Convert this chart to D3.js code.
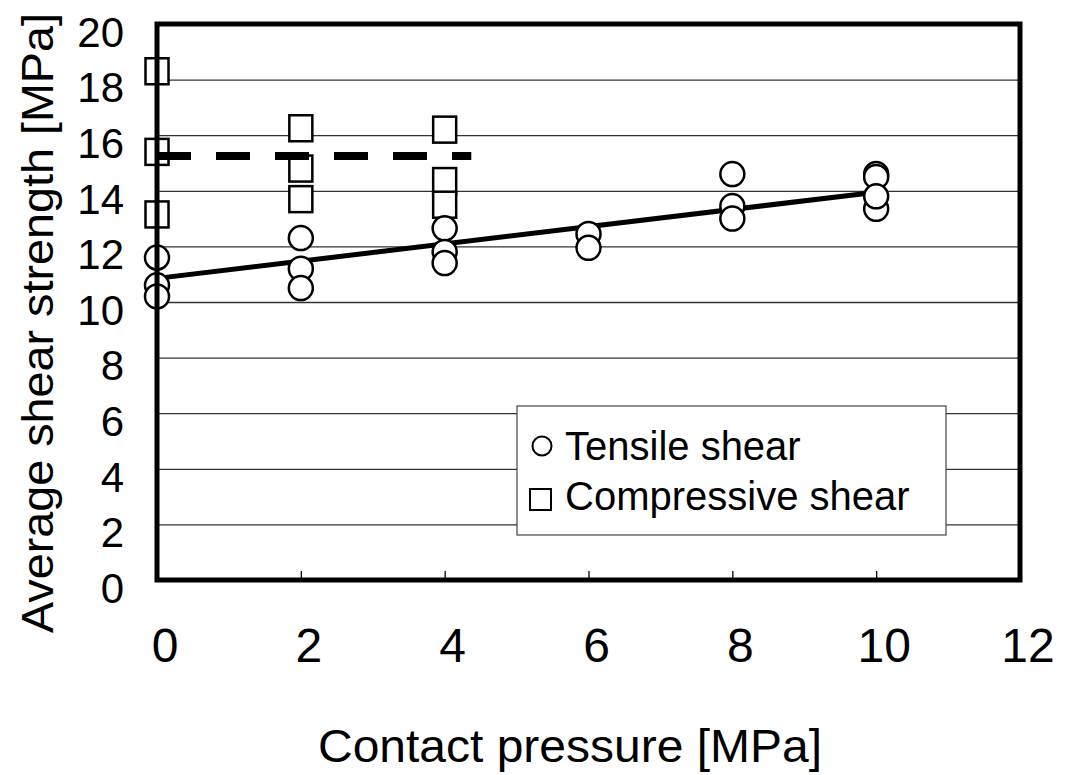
<!DOCTYPE html>
<html>
<head>
<meta charset="utf-8">
<title>Average shear strength vs contact pressure</title>
<script src="https://d3js.org/d3.v7.min.js"></script>
<style>
  body { margin: 0; background: #fff; }
  text { font-family: "Liberation Sans", Arial, sans-serif; fill: #000; }
</style>
</head>
<body>
<script>
// tensile shear (circles)
const tensileX = [0, 0, 0, 2, 2, 2, 4, 4, 4, 6, 6, 8, 8, 8, 10, 10, 10, 10];
const tensileY = [11.6, 10.6, 10.2, 12.3, 11.2, 10.5, 12.65, 11.8, 11.4, 12.45, 11.95, 14.6, 13.45, 13.0, 13.35, 14.6, 14.5, 13.8];
// compressive shear (squares)
const compX = [0, 0, 0, 2, 2, 2, 4, 4, 4];
const compY = [18.3, 15.4, 13.15, 16.25, 14.8, 13.7, 16.2, 14.35, 13.5];
// fitted line for tensile, mean line for compressive
const fitX = [0, 10];
const fitY = [10.85, 13.95];
const meanX = [0, 4.37];
const meanY = [15.25, 15.25];

const xTicks = [0, 2, 4, 6, 8, 10, 12];
const yTicks = [0, 2, 4, 6, 8, 10, 12, 14, 16, 18, 20];
const legendLabels = ["Tensile shear", "Compressive shear"];

const w = 1068, h = 775;
const pLeft = 157, pRight = 1020, pTop = 24, pBottom = 580;

const x = d3.scaleLinear().domain([0, 12]).range([pLeft, pRight]);
const y = d3.scaleLinear().domain([0, 20]).range([pBottom, pTop]);

const svg = d3.select("body").append("svg").attr("width", w).attr("height", h);

// gridlines
svg.append("g")
    .attr("transform", "translate(" + pLeft + ",0)")
    .call(d3.axisLeft(y).tickValues(yTicks.slice(1, -1)).tickSize(-(pRight - pLeft)).tickFormat(""))
    .call(g => g.select(".domain").remove())
    .call(g => g.selectAll("line").attr("stroke", "#333").attr("stroke-width", 1.3));

// x ticks (inward)
svg.append("g")
    .attr("transform", "translate(0," + pBottom + ")")
    .call(d3.axisBottom(x).tickValues(xTicks.slice(1, -1)).tickSize(-9).tickFormat(""))
    .call(g => g.select(".domain").remove())
    .call(g => g.selectAll("line").attr("stroke", "#000").attr("stroke-width", 1.3));

// tick labels
svg.append("g").selectAll("text").data(yTicks).join("text")
    .attr("x", 124)
    .attr("y", d => y(d) + 8)
    .attr("dy", "0.35em")
    .attr("text-anchor", "end")
    .attr("font-size", 42)
    .text(d => d);

svg.append("g").selectAll("text").data(xTicks).join("text")
    .attr("x", d => x(d) + 8)
    .attr("y", 662)
    .attr("text-anchor", "middle")
    .attr("font-size", 48)
    .style("font-family", '"Liberation Sans Narrow", "Arial Narrow", "Liberation Sans", sans-serif')
    .text(d => d);

// axis titles
svg.append("text")
    .attr("transform", "translate(53," + 323 + ") rotate(-90)")
    .attr("text-anchor", "middle")
    .attr("font-size", 45)
    .attr("textLength", 620)
    .attr("lengthAdjust", "spacingAndGlyphs")
    .text("Average shear strength [MPa]");

svg.append("text")
    .attr("x", 570)
    .attr("y", 762)
    .attr("text-anchor", "middle")
    .attr("font-size", 46)
    .attr("textLength", 504)
    .attr("lengthAdjust", "spacingAndGlyphs")
    .text("Contact pressure [MPa]");

// lines
const line = d3.line().x(d => x(d[0])).y(d => y(d[1]));
svg.append("path")
    .datum(d3.zip(fitX, fitY))
    .attr("d", line)
    .attr("fill", "none")
    .attr("stroke", "#000")
    .attr("stroke-width", 5);

// markers
svg.append("g").selectAll("rect").data(d3.zip(compX, compY)).join("rect")
    .attr("x", d => x(d[0]) - 11.5)
    .attr("y", d => y(d[1]) - 13)
    .attr("width", 23)
    .attr("height", 26)
    .attr("fill", "#fff")
    .attr("stroke", "#000")
    .attr("stroke-width", 2.5);

svg.append("g").selectAll("circle").data(d3.zip(tensileX, tensileY)).join("circle")
    .attr("cx", d => x(d[0]))
    .attr("cy", d => y(d[1]))
    .attr("r", 12)
    .attr("fill", "#fff")
    .attr("stroke", "#000")
    .attr("stroke-width", 2.5);

svg.append("path")
    .datum(d3.zip(meanX, meanY))
    .attr("d", line)
    .attr("fill", "none")
    .attr("stroke", "#000")
    .attr("stroke-width", 8)
    .attr("stroke-dasharray", "34,25");

// frame
svg.append("rect")
    .attr("x", pLeft)
    .attr("y", pTop)
    .attr("width", pRight - pLeft)
    .attr("height", pBottom - pTop)
    .attr("fill", "none")
    .attr("stroke", "#000")
    .attr("stroke-width", 5);

// legend
const lg = svg.append("g").attr("transform", "translate(517,406)");
lg.append("rect")
    .attr("width", 429)
    .attr("height", 129)
    .attr("fill", "#fff")
    .attr("stroke", "#444")
    .attr("stroke-width", 1.2);
lg.append("circle")
    .attr("cx", 25).attr("cy", 40).attr("r", 9.5)
    .attr("fill", "#fff").attr("stroke", "#000").attr("stroke-width", 2);
lg.append("rect")
    .attr("x", 13).attr("y", 83).attr("width", 21).attr("height", 21)
    .attr("fill", "#fff").attr("stroke", "#000").attr("stroke-width", 2);
lg.selectAll("text.lab").data(legendLabels).join("text")
    .attr("class", "lab")
    .attr("x", 48)
    .attr("y", (d, i) => 54 + i * 50)
    .attr("font-size", 40)
    .text(d => d);
</script>
</body>
</html>
